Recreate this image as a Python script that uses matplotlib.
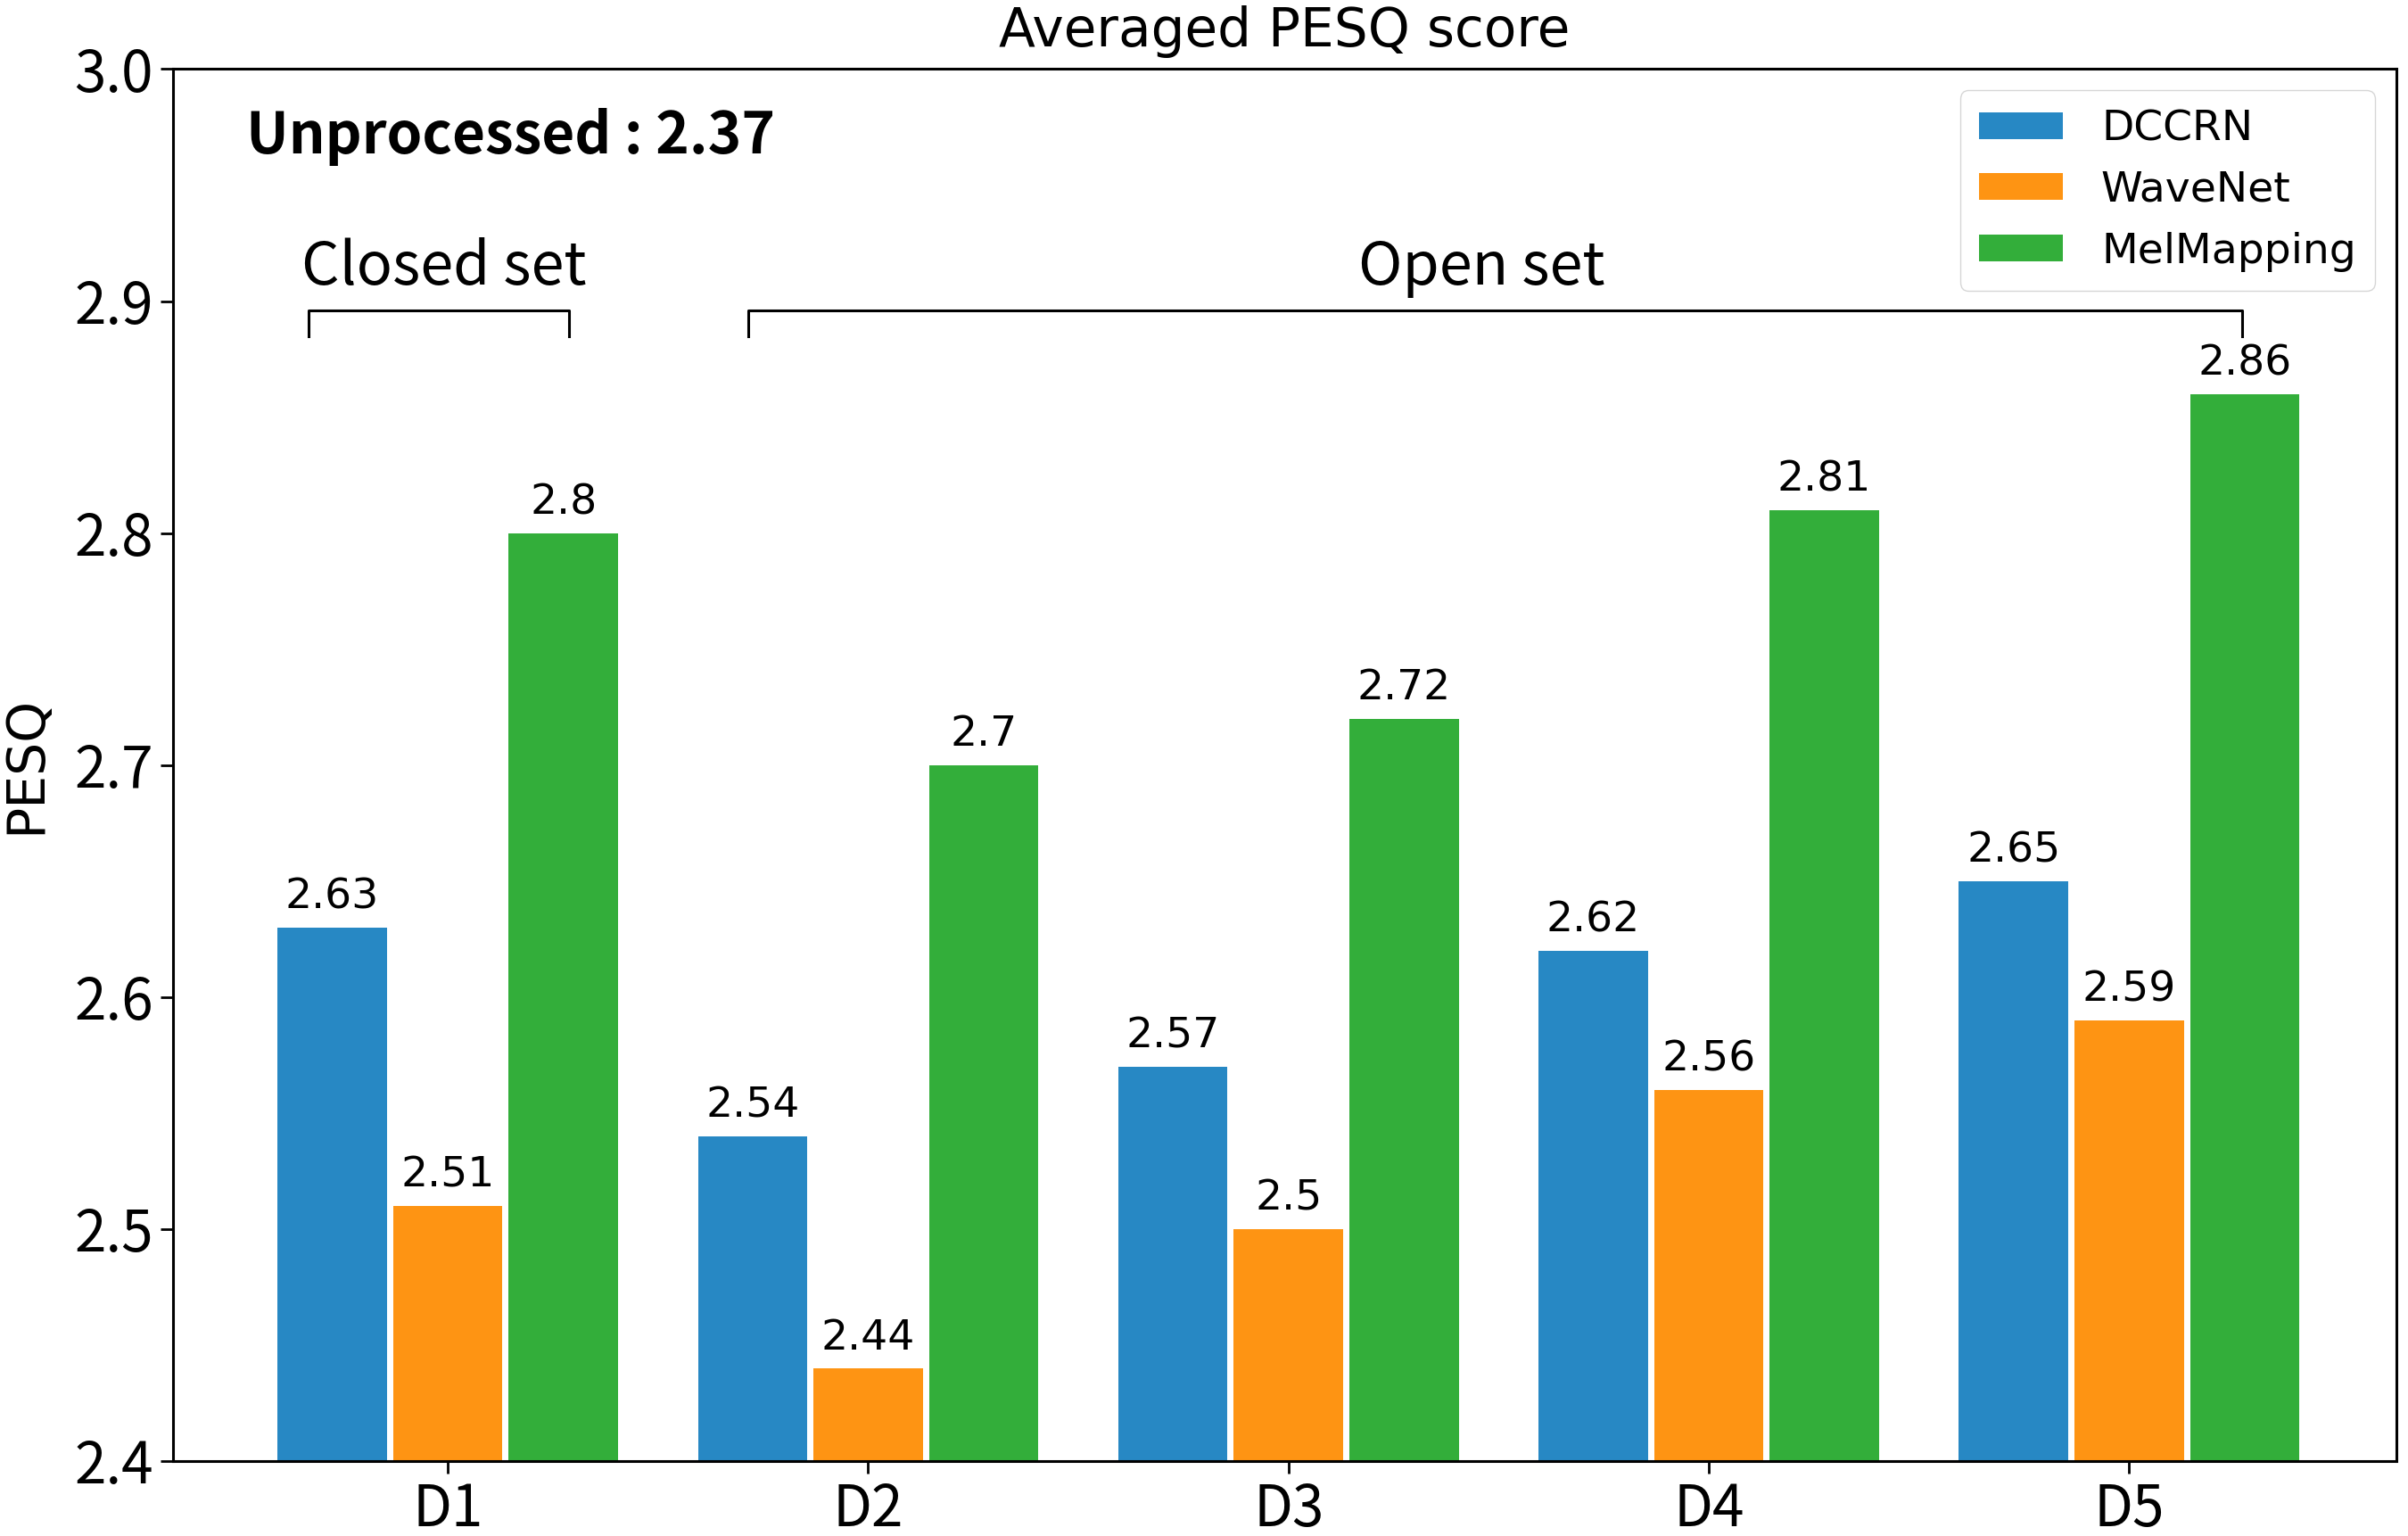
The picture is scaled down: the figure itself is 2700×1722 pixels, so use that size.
import matplotlib
matplotlib.use("Agg")
import matplotlib.pyplot as plt
import numpy as np

categories = ["D1", "D2", "D3", "D4", "D5"]
dccrn = [2.63, 2.54, 2.57, 2.62, 2.65]
wavenet = [2.51, 2.44, 2.50, 2.56, 2.59]
melmapping = [2.80, 2.70, 2.72, 2.81, 2.86]
series_names = ["DCCRN", "WaveNet", "MelMapping"]
colors = ["#2788c4", "#fe9413", "#33ae3a"]
unprocessed = 2.37
yticks = [2.4, 2.5, 2.6, 2.7, 2.8, 2.9, 3.0]

narrow = ["Noto Sans CJK SC", "DejaVu Sans"]

fig = plt.figure(figsize=(27, 17.22), dpi=100)
ax = fig.add_axes([0.072, 0.049, 0.923, 0.906])

x = np.arange(len(categories))
w = 0.26
off = 0.275
for i, (vals, name, c) in enumerate(zip([dccrn, wavenet, melmapping], series_names, colors)):
    bars = ax.bar(x + (i - 1) * off, vals, width=w, color=c, label=name, zorder=2)
    ax.bar_label(bars, labels=[f"{v:g}" for v in vals], padding=8, fontsize=34,
                 family="DejaVu Sans")

ax.set_ylim(2.4, 3.0)
ax.set_xlim(-0.653, 4.635)
ax.set_yticks(yticks)
ax.set_yticklabels([f"{t:.1f}" for t in yticks], family=narrow, fontsize=46)
ax.set_xticks(x)
ax.set_xticklabels(categories, family=narrow, fontsize=46)
ax.tick_params(axis="both", length=10, width=2, pad=6)
for s in ax.spines.values():
    s.set_linewidth(2.2)

ax.set_ylabel("PESQ", fontsize=42, family="DejaVu Sans", labelpad=19)
ax.set_title("Averaged PESQ score", fontsize=43, family="DejaVu Sans", pad=18)

# brackets
def bracket(x0, x1, y, h, label, tx):
    ax.plot([x0, x0, x1, x1], [y - h, y, y, y - h], color="black", lw=2.2, zorder=3)
    ax.text(tx, 2.907, label, ha="center", va="baseline", fontsize=48, family=narrow)

bracket(-0.332, 0.288, 2.896, 0.011, "Closed set", -0.01)
bracket(0.715, 4.27, 2.896, 0.011, "Open set", 2.46)

ax.text(-0.48, 2.9636, f"Unprocessed : {unprocessed}", ha="left", va="baseline",
        fontsize=46, fontweight="bold", family=narrow)

leg = ax.legend(loc="upper right", fontsize=34, handlelength=2.0, handleheight=0.6,
                borderpad=0.45, labelspacing=0.5, handletextpad=0.9, framealpha=0.8)

fig.savefig("out.png", dpi=100)
